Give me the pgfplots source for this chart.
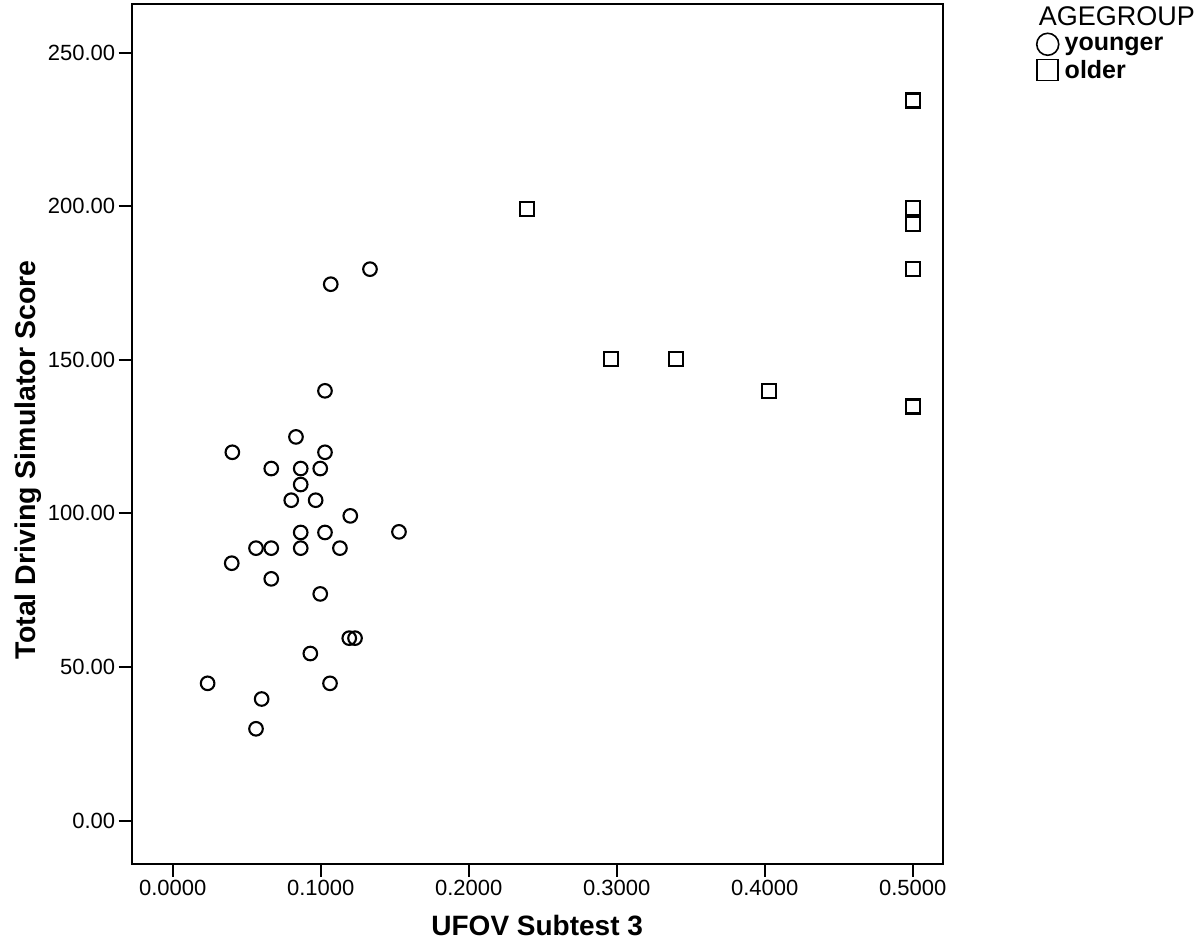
\documentclass[border=0pt]{standalone}
\usepackage{fontspec}
\setmainfont{Liberation Sans}
\usepackage{pgfplots}
\pgfplotsset{compat=1.18}
\pgfplotstableread{
x y
0.1333 179.5
0.1068 174.6
0.1029 139.9
0.0833 124.9
0.1029 119.9
0.0403 119.9
0.0666 114.6
0.0865 114.6
0.0997 114.6
0.0865 109.4
0.0801 104.3
0.0966 104.3
0.1200 99.2
0.1529 94.0
0.0865 93.8
0.1029 93.8
0.0563 88.7
0.0666 88.7
0.0865 88.7
0.1130 88.7
0.0399 83.8
0.0666 78.7
0.0997 73.8
0.1193 59.4
0.1232 59.4
0.0930 54.4
0.0236 44.7
0.1063 44.7
0.0601 39.6
0.0563 29.9
}\younger
\pgfplotstableread{
x y
0.2396 199.0
0.2961 150.2
0.3399 150.2
0.4027 139.8
0.5000 234.4
0.5000 199.3
0.5000 194.2
0.5000 179.6
0.5000 134.8
}\older
\begin{document}
\begin{tikzpicture}[x=1pt,y=1pt]
\path[use as bounding box] (0,0) rectangle (1199,950);
\begin{axis}[
  at={(131.7pt,86pt)}, anchor=south west,
  scale only axis, width=811pt, height=860pt,
  xmin=-0.0277, xmax=0.5203, ymin=-14.1, ymax=265.8,
  axis line style={line width=2pt},
  every tick/.style={line width=2pt, black},
  major tick length=13pt,
  tick align=outside,
  tick pos=left,
  xtick={0,0.1,0.2,0.3,0.4,0.5},
  ytick={0,50,100,150,200,250},
  xticklabel style={/pgf/number format/.cd, fixed, fixed zerofill, precision=4},
  yticklabel style={/pgf/number format/.cd, fixed, fixed zerofill, precision=2},
  /pgf/number format/assume math mode=true,
  ticklabel style={font=\fontsize{22}{22}\selectfont},
  scaled ticks=false,
  xlabel={UFOV Subtest 3},
  ylabel={Total Driving Simulator Score},
  xlabel style={font=\fontsize{28}{28}\selectfont\bfseries, at={(axis description cs:0.5,-0.0711)}, anchor=center},
  ylabel style={font=\fontsize{28.5}{28.5}\selectfont\bfseries, at={(axis description cs:-0.1277,0.47)}, anchor=center, rotate=0},
  clip=false,
  legend style={draw=none, fill=none, at={(axis description cs:1.112,0.9685)}, anchor=north west,
    font=\fontsize{25}{25}\selectfont\bfseries, row sep=3pt, legend cell align=left,
    /tikz/every even column/.append style={column sep=2pt},
    /tikz/every odd column/.append style={column sep=4pt}},
  legend image code/.code={\draw[#1] plot coordinates {(12pt,0pt)};},
]
\addplot[only marks, mark=o, mark size=6.8pt, line width=2.1pt, black, forget plot] table[x=x,y=y] {\younger};
\addplot[only marks, mark=square, mark size=7pt, line width=2.3pt, black, forget plot] table[x=x,y=y] {\older};
\addlegendimage{only marks, mark=o, mark size=11pt, line width=1.6pt, black}
\addlegendentry{younger}
\addlegendimage{only marks, mark=square, mark size=10.5pt, line width=1.6pt, black}
\addlegendentry{older}
\node[font=\fontsize{27}{27}\selectfont, anchor=center] at (axis description cs:1.2147,0.986) {AGEGROUP};
\end{axis}
\end{tikzpicture}
\end{document}
